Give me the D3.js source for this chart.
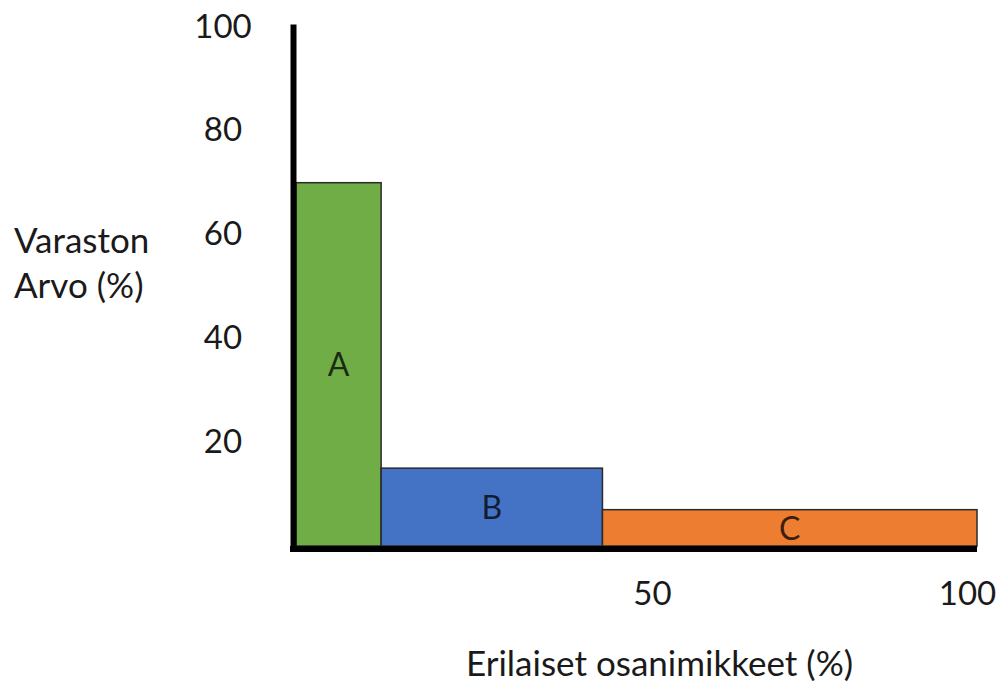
<!DOCTYPE html>
<html>
<head>
<meta charset="utf-8">
<script src="https://cdn.jsdelivr.net/npm/d3@7"></script>
<style>
  html, body { margin: 0; padding: 0; background: #fff; }
  svg text { font-family: Lato, "Open Sans", sans-serif; fill: #1a1a1a; }
</style>
</head>
<body>
<svg id="chart" width="1000" height="684"></svg>
<script>
// ABC classes: share of items (x, %) against share of stock value (y, %)
const classes = ["A", "B", "C"];
const itemStart = [0, 12.5, 45];
const itemEnd = [12.5, 45, 100];
const valueShare = [70, 15, 7];
const colors = ["#70ad47", "#4472c4", "#ed7d31"];

const yTicks = [20, 40, 60, 80, 100];
const xTicks = [50, 100];

const yTitle = ["Varaston", "Arvo (%)"];
const xTitle = "Erilaiset osanimikkeet (%)";

const svg = d3.select("#chart");

const x = d3.scaleLinear().domain([0, 100]).range([296, 977]);
const y = d3.scaleLinear().domain([0, 100]).range([546, 27]);
// the percentage labels under the axis sit on a slightly narrower band
const xLabel = d3.scaleLinear().domain([0, 100]).range([337, 967]);

const tickSize = 33;
const titleSize = 35;
const barLabelSize = 32;

// bars
const bars = svg.append("g");
classes.forEach((c, i) => {
  bars.append("rect")
    .attr("x", x(itemStart[i]))
    .attr("y", y(valueShare[i]))
    .attr("width", x(itemEnd[i]) - x(itemStart[i]))
    .attr("height", y(0) - y(valueShare[i]))
    .attr("fill", colors[i])
    .attr("stroke", "#2a2a2a")
    .attr("stroke-width", 1.5);
  bars.append("text")
    .attr("x", (x(itemStart[i]) + x(itemEnd[i])) / 2)
    .attr("y", (y(valueShare[i]) + y(0)) / 2 + 12)
    .attr("text-anchor", "middle")
    .attr("font-size", barLabelSize)
    .style("fill", "#000")
    .style("fill-opacity", 0.76)
    .text(c);
});

// y axis
const yAxis = svg.append("g")
  .attr("transform", `translate(${x(0) - 3},0)`)
  .call(d3.axisLeft(y).tickValues(yTicks).tickSize(0).tickSizeOuter(0).tickPadding(0));
yAxis.select(".domain")
  .attr("stroke", "#000").attr("stroke-width", 6).attr("stroke-linecap", "square");
yAxis.selectAll(".tick text")
  .attr("x", 223 - (x(0) - 3))
  .attr("dy", 10)
  .attr("text-anchor", "middle")
  .attr("font-size", tickSize)
  .style("fill", "#1a1a1a");

// x axis baseline
svg.append("line")
  .attr("x1", x(0) - 6).attr("x2", x(100))
  .attr("y1", y(0) + 3).attr("y2", y(0) + 3)
  .attr("stroke", "#000").attr("stroke-width", 6);

// x tick labels
const xAxis = svg.append("g")
  .attr("transform", `translate(0,${y(0) + 3})`)
  .call(d3.axisBottom(xLabel).tickValues(xTicks).tickSize(0).tickSizeOuter(0).tickPadding(0));
xAxis.select(".domain").remove();
xAxis.selectAll(".tick text")
  .attr("y", 0)
  .attr("dy", 56)
  .attr("font-size", tickSize)
  .style("fill", "#1a1a1a");

// axis titles
svg.append("text")
  .attr("font-size", titleSize)
  .selectAll("tspan")
  .data(yTitle)
  .join("tspan")
  .attr("x", 14)
  .attr("y", (d, i) => 253 + i * 45)
  .text(d => d);

svg.append("text")
  .attr("x", 466)
  .attr("y", 676)
  .attr("font-size", titleSize)
  .text(xTitle);
</script>
</body>
</html>
